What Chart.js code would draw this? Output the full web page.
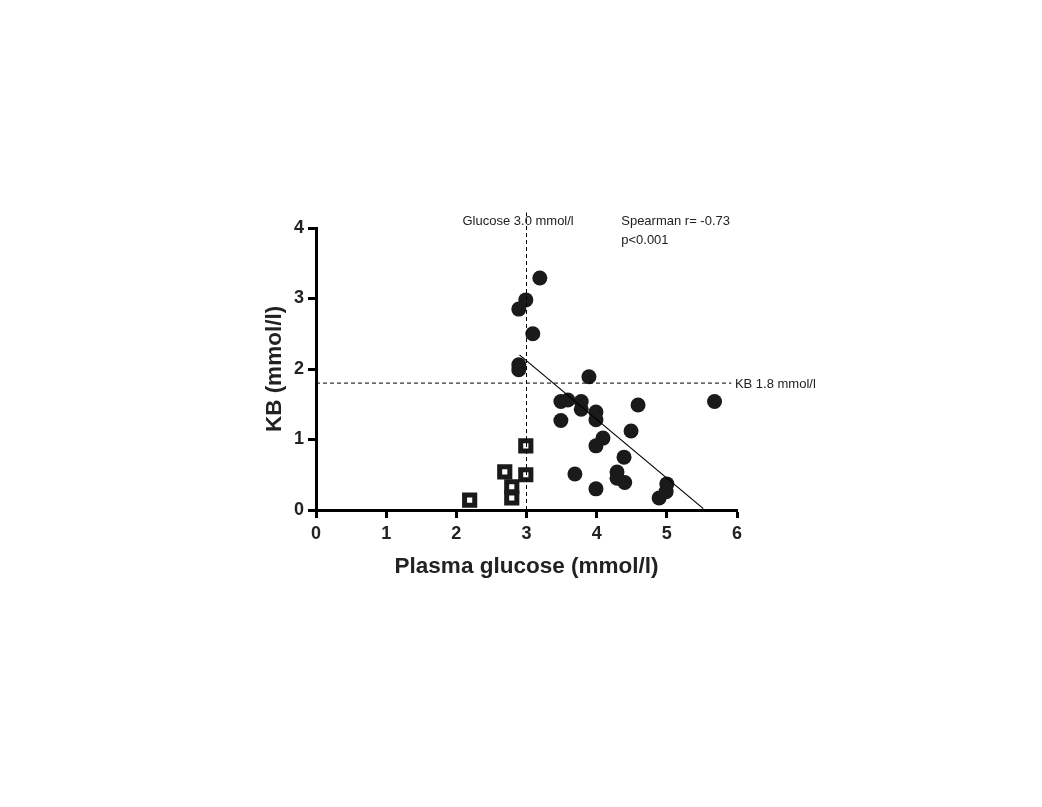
<!DOCTYPE html>
<html>
<head>
<meta charset="utf-8">
<script src="https://cdn.jsdelivr.net/npm/chart.js@4.4.1/dist/chart.umd.min.js"></script>
<style>
  html, body { margin: 0; padding: 0; background: #fff; }
  #wrap { width: 1042px; height: 807px; }
</style>
</head>
<body>
<div id="wrap"><canvas id="grafica" width="1042" height="807"></canvas></div>
<script>
// KB frente a glucosa plasmatica
const glucosa_circulos = [3.19, 2.99, 2.89, 3.09, 2.89, 2.89, 3.89, 3.49, 3.59, 3.78, 3.78, 3.99, 3.99, 4.59, 5.68, 3.49, 4.49, 4.09, 3.99, 4.39, 3.69, 4.29, 4.29, 4.40, 3.99, 5.00, 4.99, 4.89];
const kb_circulos      = [3.29, 2.98, 2.85, 2.50, 2.06, 1.99, 1.89, 1.54, 1.56, 1.54, 1.43, 1.39, 1.28, 1.49, 1.54, 1.27, 1.12, 1.02, 0.91, 0.75, 0.51, 0.54, 0.45, 0.39, 0.30, 0.37, 0.26, 0.17];

const glucosa_cuadros = [2.99, 2.69, 2.99, 2.79, 2.79, 2.19];
const kb_cuadros      = [0.91, 0.54, 0.50, 0.33, 0.17, 0.14];

const regresion_x = [2.90, 5.52];
const regresion_y = [2.20, 0.02];

const corte_glucosa = 3.0;
const corte_kb = 1.8;
const ticks_x = [0, 1, 2, 3, 4, 5, 6];
const ticks_y = [0, 1, 2, 3, 4];

const fuente = "'Liberation Sans', Arial, sans-serif";

const a_puntos = (xs, ys) => xs.map((x, i) => ({ x: x, y: ys[i] }));

const anotaciones = {
    id: 'anotaciones',
    afterDatasetsDraw(chart) {
        const ctx = chart.ctx;
        const sx = chart.scales.x, sy = chart.scales.y;
        ctx.save();
        ctx.fillStyle = '#222';
        ctx.font = '13px ' + fuente;
        ctx.textBaseline = 'middle';
        ctx.textAlign = 'left';
        ctx.fillText('Glucose 3.0 mmol/l', sx.getPixelForValue(corte_glucosa) - 64, sy.top - 7);
        ctx.fillText('Spearman r= -0.73', sx.getPixelForValue(4.35), sy.top - 7);
        ctx.fillText('p<0.001', sx.getPixelForValue(4.35), sy.top + 12);
        ctx.fillText('KB 1.8 mmol/l', sx.getPixelForValue(5.97), sy.getPixelForValue(corte_kb) + 1);
        ctx.restore();
    }
};

const build_chart_dispersion = (id_canvas) => {
    try {
        new Chart(id_canvas, {
            type: 'scatter',
            plugins: [anotaciones],
            data: {
                datasets: [
                    {
                        label: 'Glucose 3.0',
                        type: 'line',
                        data: [{ x: corte_glucosa, y: 0 }, { x: corte_glucosa, y: 4.22 }],
                        borderColor: '#000',
                        borderWidth: 1,
                        borderDash: [4, 3],
                        pointRadius: 0,
                        fill: false,
                        clip: false
                    },
                    {
                        label: 'KB 1.8',
                        type: 'line',
                        data: [{ x: 0, y: corte_kb }, { x: 5.92, y: corte_kb }],
                        borderColor: '#000',
                        borderWidth: 1,
                        borderDash: [4, 3],
                        pointRadius: 0,
                        fill: false,
                        clip: false
                    },
                    {
                        label: 'Regresion',
                        type: 'line',
                        data: a_puntos(regresion_x, regresion_y),
                        borderColor: '#000',
                        borderWidth: 1.2,
                        pointRadius: 0,
                        fill: false
                    },
                    {
                        label: 'KB > corte',
                        data: a_puntos(glucosa_circulos, kb_circulos),
                        backgroundColor: '#1a1a1a',
                        borderColor: '#1a1a1a',
                        borderWidth: 0,
                        pointRadius: 7.5,
                        pointStyle: 'circle',
                        clip: false
                    },
                    {
                        label: 'Hipoglucemia',
                        data: a_puntos(glucosa_cuadros, kb_cuadros),
                        backgroundColor: '#fff',
                        borderColor: '#1a1a1a',
                        borderWidth: 5,
                        pointRadius: 7.2,
                        pointStyle: 'rect',
                        clip: false
                    }
                ]
            },
            options: {
                responsive: false,
                animation: false,
                layout: { padding: { left: 253, top: 228, right: 305, bottom: 221 } },
                plugins: {
                    legend: { display: false },
                    tooltip: { enabled: false }
                },
                scales: {
                    x: {
                        type: 'linear',
                        min: 0, max: 6,
                        afterFit: (s) => { s.height = 76; },
                        afterBuildTicks: (s) => { s.ticks = ticks_x.map(v => ({ value: v })); },
                        border: { display: true, color: '#000', width: 3 },
                        grid: { drawOnChartArea: false, drawTicks: true, tickLength: 8, tickWidth: 3, tickColor: '#000' },
                        ticks: { color: '#222', padding: 5, font: { family: fuente, size: 18, weight: 'bold' } },
                        title: { display: true, text: 'Plasma glucose (mmol/l)', color: '#222', padding: 6, font: { family: fuente, size: 22.5, weight: 'bold' } }
                    },
                    y: {
                        type: 'linear',
                        min: 0, max: 4,
                        afterFit: (s) => { s.width = 63; },
                        afterBuildTicks: (s) => { s.ticks = ticks_y.map(v => ({ value: v })); },
                        border: { display: true, color: '#000', width: 3 },
                        grid: { drawOnChartArea: false, drawTicks: true, tickLength: 8, tickWidth: 3, tickColor: '#000' },
                        ticks: { color: '#222', padding: 4, font: { family: fuente, size: 18, weight: 'bold' } },
                        title: { display: true, text: 'KB (mmol/l)', color: '#222', padding: 8, font: { family: fuente, size: 22.5, weight: 'bold' } }
                    }
                }
            }
        });
    } catch (e) {
        console.error("Ocurrio un error", e);
    }
};

document.addEventListener("DOMContentLoaded", function(event) {
    build_chart_dispersion(document.getElementById("grafica"));
});
</script>
</body>
</html>
